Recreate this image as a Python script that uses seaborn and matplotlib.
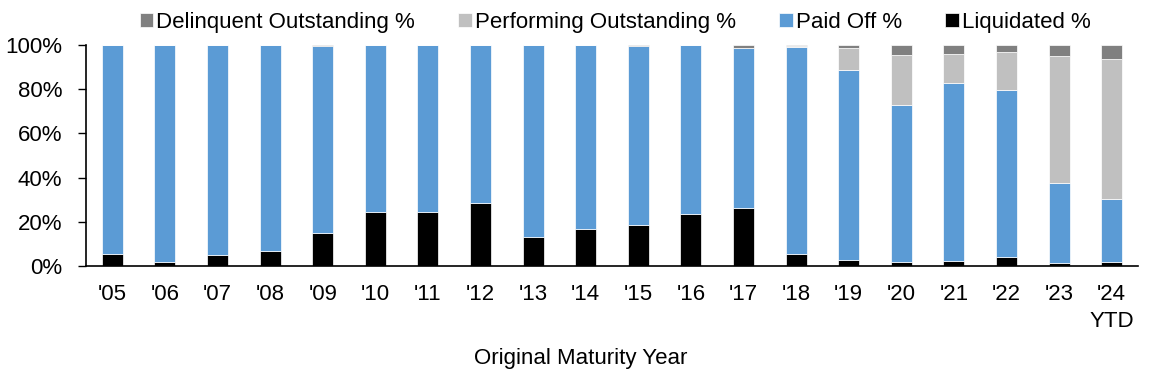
# Stacked outcome shares by original maturity year
import numpy as np
import pandas as pd
import matplotlib
matplotlib.use("Agg")
import matplotlib.pyplot as plt
import seaborn as sns

years = ["'05", "'06", "'07", "'08", "'09", "'10", "'11", "'12", "'13", "'14",
         "'15", "'16", "'17", "'18", "'19", "'20", "'21", "'22", "'23", "'24\nYTD"]
liquidated = [5.4, 2.0, 5.0, 7.0, 14.9, 24.6, 24.4, 28.4, 13.3, 16.6,
              18.5, 23.4, 26.2, 5.4, 2.7, 2.0, 2.2, 4.2, 1.5, 2.0]
paid_off = [94.6, 98.0, 95.0, 93.0, 84.8, 75.4, 75.6, 71.6, 86.7, 83.4,
            81.0, 76.4, 72.4, 93.7, 86.0, 70.9, 80.5, 75.4, 36.1, 28.3]
performing = [0.0, 0.0, 0.0, 0.0, 0.0, 0.0, 0.0, 0.0, 0.0, 0.0,
              0.0, 0.0, 0.2, 0.5, 9.8, 22.4, 13.2, 17.1, 57.5, 63.5]
delinquent = [0.0, 0.0, 0.0, 0.0, 0.3, 0.0, 0.0, 0.0, 0.0, 0.0,
              0.5, 0.2, 1.2, 0.4, 1.5, 4.7, 4.1, 3.3, 4.9, 6.2]

df = pd.DataFrame({"Year": years, "Liquidated": liquidated, "PaidOff": paid_off,
                   "Performing": performing, "Delinquent": delinquent})
for c in ["Liquidated", "PaidOff", "Performing", "Delinquent"]:
    df[c] = df[c] / 100.0

sns.set_style("white")
plt.rcParams["font.family"] = ["Liberation Sans", "DejaVu Sans"]
plt.rcParams["text.color"] = "black"
plt.rcParams["axes.labelcolor"] = "black"
plt.rcParams["xtick.color"] = "black"
plt.rcParams["ytick.color"] = "black"

fig = plt.figure(figsize=(11.52, 3.78), dpi=100)
ax = fig.add_axes([86 / 1152, 112 / 378, 1052 / 1152, 221 / 378])

series = [("Liquidated", "#000000", "Liquidated %"),
          ("PaidOff", "#5B9BD5", "Paid Off %"),
          ("Performing", "#C0C0C0", "Performing Outstanding %"),
          ("Delinquent", "#808080", "Delinquent Outstanding %")]
bottom = np.zeros(len(df))
for col, color, label in series:
    sns.barplot(data=df, x="Year", y=col, color=color, width=0.4,
                bottom=bottom, ax=ax, label=label, saturation=1,
                edgecolor="white", linewidth=0.5)
    bottom = bottom + df[col].values

ax.set_xlim(-0.5, len(years) - 0.5)
ax.set_ylim(0, 1)
ax.set_yticks(np.arange(0, 1.01, 0.2))
ax.set_yticklabels([f"{int(round(v * 100))}%" for v in np.arange(0, 1.01, 0.2)])
ax.tick_params(axis="both", labelsize=16)
ax.tick_params(axis="x", length=0, pad=13)
ax.tick_params(axis="y", left=True, length=6, width=1, pad=11, direction="out")
for t in ax.get_xticklabels():
    t.set_linespacing(1.35)
ax.set_xlabel("Original Maturity Year", fontsize=16)
ax.xaxis.set_label_coords(0.47, -0.37)
ax.set_ylabel("")
for s in ["top", "right"]:
    ax.spines[s].set_visible(False)
for s in ["bottom", "left"]:
    ax.spines[s].set_color("black")
    ax.spines[s].set_linewidth(1.2)

h, l = ax.get_legend_handles_labels()
order = ["Delinquent Outstanding %", "Performing Outstanding %", "Paid Off %", "Liquidated %"]
hmap = dict(zip(l, h))
ax.legend([hmap[k] for k in order], order, loc="center", bbox_to_anchor=(0.503, 1.104),
          ncol=4, frameon=False, fontsize=16, handlelength=0.6, handleheight=0.6,
          handletextpad=0.15, columnspacing=1.95, borderaxespad=0, borderpad=0)

fig.savefig("out.png", dpi=100)
